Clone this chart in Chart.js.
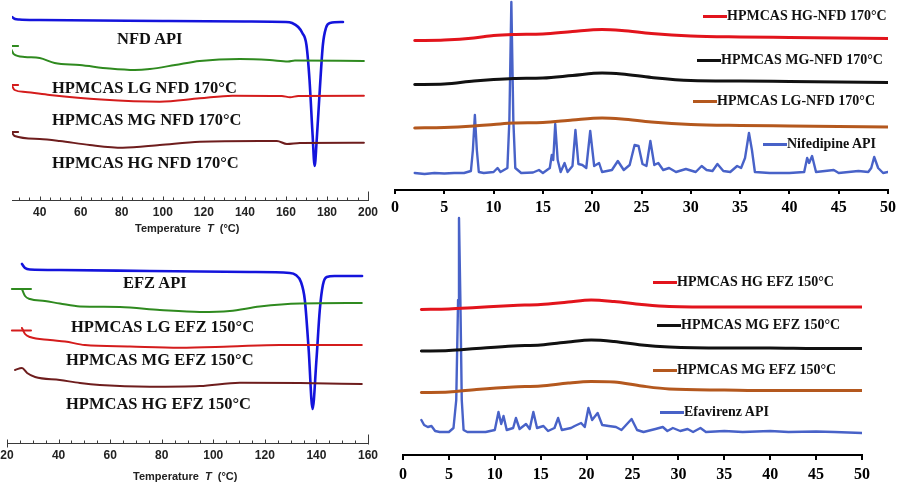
<!DOCTYPE html>
<html><head><meta charset="utf-8">
<script src="https://cdn.jsdelivr.net/npm/chart.js@4.4.0/dist/chart.umd.min.js"></script>
<style>
html,body{margin:0;padding:0;background:#fff}
body{width:900px;height:483px;position:relative;overflow:hidden}
canvas{position:absolute}
.dl{position:absolute;font:bold 16.5px "Liberation Serif",serif;line-height:1;color:#111;white-space:nowrap}
.lg{position:absolute;display:flex;align-items:center;font:bold 14px "Liberation Serif",serif;line-height:1;height:14px;color:#111;white-space:nowrap}
.lg span{display:inline-block;width:24px;height:3px;margin-right:0}
.at{position:absolute;font:bold 11px "Liberation Sans",sans-serif;line-height:1;color:#222;white-space:nowrap}
</style></head><body>
<canvas id="dscNfd" width="385" height="240" style="left:0;top:0"></canvas>
<canvas id="xrdNfd" width="520" height="225" style="left:380px;top:0"></canvas>
<canvas id="dscEfz" width="395" height="243" style="left:-10px;top:240px"></canvas>
<canvas id="xrdEfz" width="520" height="268" style="left:380px;top:215px"></canvas>

<div class="dl" style="left:117px;top:31px">NFD API</div>
<div class="dl" style="left:52px;top:80px">HPMCAS LG NFD 170°C</div>
<div class="dl" style="left:52px;top:112px">HPMCAS MG NFD 170°C</div>
<div class="dl" style="left:52px;top:155px">HPMCAS HG NFD 170°C</div>
<div class="at" style="left:135px;top:223px">Temperature&nbsp;&nbsp;<i>T</i>&nbsp;&nbsp;(°C)</div>

<div class="dl" style="left:123px;top:275px">EFZ API</div>
<div class="dl" style="left:71px;top:319px">HPMCAS LG EFZ 150°C</div>
<div class="dl" style="left:66px;top:352px">HPMCAS MG EFZ 150°C</div>
<div class="dl" style="left:66px;top:396px">HPMCAS HG EFZ 150°C</div>
<div class="at" style="left:133px;top:471px">Temperature&nbsp;&nbsp;<i>T</i>&nbsp;&nbsp;(°C)</div>

<div class="lg" style="left:703px;top:9px"><span style="background:#e2141c"></span>HPMCAS HG-NFD 170°C</div>
<div class="lg" style="left:697px;top:53px"><span style="background:#111"></span>HPMCAS MG-NFD 170°C</div>
<div class="lg" style="left:693px;top:94px"><span style="background:#b4581e"></span>HPMCAS LG-NFD 170°C</div>
<div class="lg" style="left:763px;top:137px"><span style="background:#4862c8"></span>Nifedipine API</div>

<div class="lg" style="left:653px;top:275px"><span style="background:#e2141c"></span>HPMCAS HG EFZ 150°C</div>
<div class="lg" style="left:657px;top:318px"><span style="background:#111"></span>HPMCAS MG EFZ 150°C</div>
<div class="lg" style="left:653px;top:363px"><span style="background:#b4581e"></span>HPMCAS MG EFZ 150°C</div>
<div class="lg" style="left:660px;top:405px"><span style="background:#4862c8"></span>Efavirenz API</div>

<script>
// ---------- DSC, nifedipine (temperature °C, heat flow a.u. with offsets) ----------
const dscNfdTicks = [40, 60, 80, 100, 120, 140, 160, 180, 200];
const dscNfdApiT = [26.5, 28, 30, 40, 100, 140, 160, 163, 166, 168, 170, 171.5, 173, 174, 175, 176.5, 178, 179.5, 181.5, 187.8];
const dscNfdApi  = [183, 181, 180.5, 180, 179, 178.5, 178, 177, 173, 167, 155, 120, 65, 34, 60, 110, 155, 172, 177, 178];
const dscNfdLgT = [26.3, 27.3, 32.7, 40, 47.3, 59.5, 74, 86.3, 93.7, 106, 118, 137.6, 152, 161, 164.4, 198];
const dscNfdLg  = [150, 146, 143, 142, 137, 135, 131.5, 130, 131, 135, 139, 141, 140, 138.5, 139.5, 139];
const dscNfdMgT = [26.3, 27.8, 33, 44.9, 70, 98.5, 118, 134, 158, 162, 166, 198];
const dscNfdMg  = [115, 110, 108, 105, 100.5, 98.3, 101.7, 104.3, 104, 102.7, 104, 104.3];
const dscNfdHgT = [26.3, 27.8, 40, 49.8, 64.4, 80.5, 98.5, 118, 147.3, 155.6, 160.5, 166.8, 198];
const dscNfdHg  = [68, 64, 61, 59, 55, 52.3, 55, 58.3, 59, 59, 56, 57, 57.3];
const dscNfdStubT = [26.3, 29.5];
const dscNfdStubLg = [154, 154];
const dscNfdStubMg = [115, 115];
const dscNfdStubHg = [68, 68];

// ---------- DSC, efavirenz ----------
const dscEfzTicks = [20, 40, 60, 80, 100, 120, 140, 160];
const dscEfzApiT = [25.8, 27, 28.9, 40.5, 75.4, 114.2, 129.7, 132, 134, 135.5, 137, 138.5, 140, 141.3, 142.5, 144, 147, 157.7];
const dscEfzApi  = [179, 175, 173.5, 173, 172, 171, 170, 168, 161, 143, 93, 34, 83, 133, 158, 166, 167, 167];
const dscEfzLgT = [25.8, 27, 28.9, 34.7, 40.5, 48.3, 63.8, 79.3, 94.8, 106.4, 118, 133.6, 157.6];
const dscEfzLg  = [154, 147, 144, 142, 139.5, 136.5, 136, 133, 131, 132, 136.5, 139.5, 140];
const dscEfzMgT = [25.8, 27, 28.9, 36.7, 42.5, 50.2, 67.7, 87, 106.4, 125.8, 157.6];
const dscEfzMg  = [115, 109, 106, 103, 101.5, 98, 96.5, 95.3, 96.5, 98, 98];
const dscEfzHgT = [23.1, 25.8, 27.8, 30.9, 40.5, 48.3, 56, 75.4, 94.8, 110.3, 133.6, 157.6];
const dscEfzHg  = [73, 75, 70, 66, 63, 60, 58, 56.3, 57, 60.3, 60, 59];
const dscEfzStubT = [21.9, 29.3];
const dscEfzStubLg = [154, 154];
const dscEfzStubMg = [112.5, 112.5];

// ---------- XRD, nifedipine (2θ, intensity a.u. with offsets) ----------
const xrdTicks = [0, 5, 10, 15, 20, 25, 30, 35, 40, 45, 50];
const xrdNfdPolyT = [2, 5, 8, 10, 12, 15, 18, 21, 23, 26, 30, 35, 40, 45, 50];
const xrdNfdHg = [149.5, 150, 152, 154.5, 155.5, 156, 158.5, 160.5, 159.5, 156.5, 154, 153, 152.5, 152, 151.5];
const xrdNfdMg = [105.5, 106, 109, 110.5, 111.5, 112, 114.5, 117, 116, 112.5, 109.5, 109, 108.5, 108, 107.5];
const xrdNfdLg = [62, 62.5, 64, 65.5, 67, 67.5, 70, 72, 71, 68, 65.5, 64.5, 64, 63.5, 63];
const xrdNfdApiT = [2,3,4,5,6,7,7.7,7.9,8.1,8.3,8.5,9,10,10.4,10.7,11.4,11.6,11.8,12.0,12.2,12.8,14,14.6,15,15.7,15.9,16.05,16.25,16.5,16.8,17.2,17.5,18,18.3,18.6,19,19.4,19.8,20.2,20.7,21,22,22.6,23.2,23.8,24.3,24.7,25.1,25.5,25.9,26.3,26.7,27.2,27.8,28.5,29.5,30.5,31.1,31.6,32.2,32.7,33.3,34,34.7,35.1,35.5,35.9,36.2,36.5,38,40,41.5,41.8,42,42.3,42.7,44.5,45,47,48,48.3,48.6,49,49.5,50];
const xrdNfdApi  = [17,16,17,16.5,17,17,19,40,75,40,18,17,18,22,18,22,70,188,70,22,17,17.5,20,17,22,35,30,66,30,18,27,18,24,60,26,25,22,59,24,27,18,20,29,20,25,45,44,26,24,49,25,27,20,22,18,21,18,24,20,19,26,19,18,24,22,32,57,40,18,17,17,18,32,27,34,18,20,17,19,18,22,33,22,17,18];

// ---------- XRD, efavirenz ----------
const xrdEfzPolyT = [2, 5, 8, 12, 15, 18, 20.5, 23, 26, 29, 35, 40, 45, 50];
const xrdEfzHg = [145.5, 146, 147.5, 149.5, 150.5, 153, 155, 153.5, 150.5, 148.5, 148, 148, 148, 148];
const xrdEfzMg = [104, 104.5, 106.5, 109, 110, 113, 115, 113.5, 110, 108, 107, 107, 106.5, 106.5];
const xrdEfzLg = [62.5, 63, 65.5, 68, 69, 72, 73.5, 73, 69, 66, 65, 64.5, 64.5, 64.5];
const xrdEfzApiT = [2,2.3,2.7,3.1,3.5,4,5,5.5,5.8,6.0,6.1,6.25,6.4,6.6,7,9,10,10.4,10.7,10.95,11.3,12,12.3,12.7,13.4,13.8,14.2,14.6,15.3,15.8,16.5,16.9,17.3,18.3,18.7,19.4,19.8,20.2,20.6,21.2,21.7,22.4,23.2,23.8,24.9,25.5,26.2,27.5,28.3,28.8,29.4,30.2,31,31.6,32.4,33,35,37,40,42,45,47,50];
const xrdEfzApi  = [35,30,28,29,24,23,23,27,55,155,237,155,55,25,23,23,25,43,31,39,25,27,37,26,31,26,43,27,29,24,27,37,25,27,29,32,28,47,35,42,30,29,28,25,36,25,23,26,28,24,27,24,26,23,27,23,24,23,24,23,23.5,23,22];

// ---------- colours ----------
const C = {dscBlue:'#1414dc', dscGreen:'#2f8a1f', dscRed:'#d41c1c', dscMaroon:'#6e1d1d',
           xRed:'#e2141c', xBlack:'#111111', xBrown:'#b4581e', xBlue:'#4862c8'};

function pts(xs, ys){ return xs.map((x, i) => ({x: x, y: ys[i]})); }
function line(xs, ys, color, width, smooth){
  return {data: pts(xs, ys), borderColor: color, backgroundColor: color, borderWidth: width,
          pointRadius: 0, fill: false, tension: 0,
          cubicInterpolationMode: smooth ? 'monotone' : 'default', borderJoinStyle: 'round', borderCapStyle: 'round'};
}

const dscAxisMarks = {
  id: 'dscAxisMarks',
  afterDraw(chart, args, o){
    if (!o || !o.step) return;
    const s = chart.scales.x, ctx = chart.ctx, y = chart.chartArea.bottom + 0.5;
    ctx.save(); ctx.strokeStyle = '#3a3a3a'; ctx.lineWidth = 1; ctx.beginPath();
    for (let v = o.start; v <= s.max + 1e-6; v += o.step){
      const px = Math.round(s.getPixelForValue(v)) + 0.5;
      const major = Math.abs(v % 20) < 1e-6;
      ctx.moveTo(px, y); ctx.lineTo(px, y - (major ? 4 : 3));
    }
    o.ends.forEach(e => {
      const px = Math.round(s.getPixelForValue(e.v)) + 0.5;
      ctx.moveTo(px, y + e.down); ctx.lineTo(px, y - e.up);
    });
    ctx.stroke(); ctx.restore();
  }
};

function baseOpts(pad){
  return {responsive: false, animation: false, devicePixelRatio: 1, layout: {padding: pad},
          plugins: {legend: {display: false}, tooltip: {enabled: false}}, events: []};
}

function dscChart(id, datasets, xmin, xmax, ymax, tickVals, pad, marks){
  const o = baseOpts(pad);
  o.plugins.dscAxisMarks = marks;
  o.scales = {
    x: {type: 'linear', min: xmin, max: xmax,
        afterBuildTicks: s => { s.ticks = tickVals.map(v => ({value: v})); },
        afterFit: s => { s.height = 40; },
        grid: {display: true, drawOnChartArea: false, drawTicks: false},
        border: {display: true, color: '#3a3a3a', width: 1},
        ticks: {padding: 5, color: '#222', autoSkip: false, maxRotation: 0,
                font: {family: 'Liberation Sans', size: 12, weight: 'bold'}, callback: v => String(v)}},
    y: {display: false, min: 0, max: ymax}
  };
  return new Chart(document.getElementById(id), {type: 'line', data: {datasets}, options: o, plugins: [dscAxisMarks]});
}

function xrdChart(id, datasets, ymax, pad, axisH, tickLen, labelPad){
  const o = baseOpts(pad);
  o.scales = {
    x: {type: 'linear', min: 0, max: 50,
        afterBuildTicks: s => { s.ticks = xrdTicks.map(v => ({value: v})); },
        afterFit: s => { s.height = axisH; },
        grid: {display: true, drawOnChartArea: false, drawTicks: true, tickLength: tickLen, color: '#000', lineWidth: 2},
        border: {display: true, color: '#000', width: 2},
        ticks: {padding: labelPad, color: '#000', autoSkip: false, maxRotation: 0,
                font: {family: 'Liberation Serif', size: 16, weight: 'bold'}, callback: v => String(v)}},
    y: {display: false, min: 0, max: ymax}
  };
  return new Chart(document.getElementById(id), {type: 'line', data: {datasets}, options: o});
}

dscChart('dscNfd', [
  line(dscNfdStubT, dscNfdStubLg, C.dscGreen, 2, false),
  line(dscNfdStubT, dscNfdStubMg, C.dscRed, 2, false),
  line(dscNfdStubT, dscNfdStubHg, C.dscMaroon, 2, false),
  line(dscNfdLgT, dscNfdLg, C.dscGreen, 2, true),
  line(dscNfdMgT, dscNfdMg, C.dscRed, 2, true),
  line(dscNfdHgT, dscNfdHg, C.dscMaroon, 2, true),
  line(dscNfdApiT, dscNfdApi, C.dscBlue, 2.6, true)
], 26.5, 200, 200, dscNfdTicks, {left: 12, right: 17, top: 0, bottom: 0},
  {start: 30, step: 5, ends: [{v: 200, up: 9, down: 0}]});

dscChart('dscEfz', [
  line(dscEfzStubT, dscEfzStubLg, C.dscGreen, 2, false),
  line(dscEfzStubT, dscEfzStubMg, C.dscRed, 2, false),
  line(dscEfzLgT, dscEfzLg, C.dscGreen, 2, true),
  line(dscEfzMgT, dscEfzMg, C.dscRed, 2, true),
  line(dscEfzHgT, dscEfzHg, C.dscMaroon, 2, true),
  line(dscEfzApiT, dscEfzApi, C.dscBlue, 2.6, true)
], 20, 160, 203, dscEfzTicks, {left: 17, right: 17, top: 0, bottom: 0},
  {start: 25, step: 5, ends: [{v: 20, up: 4, down: 4}, {v: 160, up: 9, down: 1}]});

xrdChart('xrdNfd', [
  line(xrdNfdPolyT, xrdNfdHg, C.xRed, 3, true),
  line(xrdNfdPolyT, xrdNfdMg, C.xBlack, 3, true),
  line(xrdNfdPolyT, xrdNfdLg, C.xBrown, 3, true),
  line(xrdNfdApiT, xrdNfdApi, C.xBlue, 2.4, false)
], 190, {left: 15, right: 12, top: 0, bottom: 0}, 35, 4, 4);

xrdChart('xrdEfz', [
  line(xrdEfzPolyT, xrdEfzHg, C.xRed, 3, true),
  line(xrdEfzPolyT, xrdEfzMg, C.xBlack, 3, true),
  line(xrdEfzPolyT, xrdEfzLg, C.xBrown, 3, true),
  line(xrdEfzApiT, xrdEfzApi, C.xBlue, 2.4, false)
], 240, {left: 23, right: 38, top: 0, bottom: 0}, 28, 5, 5);
</script>
</body></html>
